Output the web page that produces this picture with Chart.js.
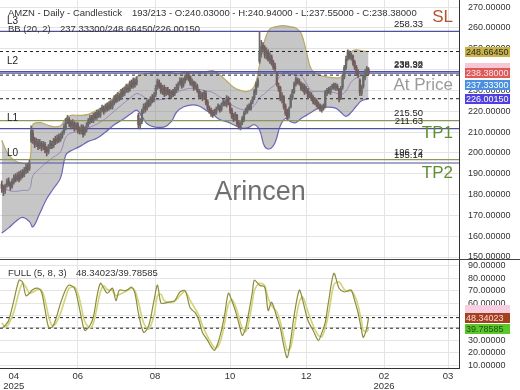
<!DOCTYPE html>
<html>
<head>
<meta charset="utf-8">
<script src="https://cdn.jsdelivr.net/npm/chart.js@4.4.1/dist/chart.umd.min.js"></script>
<style>
  html, body { margin: 0; padding: 0; background: #fff; }
  #wrap { width: 520px; height: 390px; position: relative; }
</style>
</head>
<body>
<div id="wrap"><canvas id="chart" width="520" height="390"></canvas></div>
<script>
// daily candles, bar index 0..212
const opens = [185,183.5,182,184.5,186.5,185,184,186,188.5,187.5,
  189.5,188,190.5,189.5,191,193.5,192.5,206,209.5,206.5,
  204,205,203.5,204.5,203,204,202,200.5,203.5,204,
  203.5,206.5,205.5,207.5,206.5,208,210,212,215.5,216,
  214.5,213,214,212.5,213.5,211,210,212.5,209.5,211,
  213.5,215,217,215.5,218.5,217,219,218,220.5,221,
  220.5,222.5,221.5,223.5,222,224,226.5,225.5,227,226.5,
  229.5,228.5,230,231,230.5,233.5,232,234,233.5,218,
  213,215,220.5,222.5,221.5,224,223.5,226.5,225.5,228,
  231.5,234,232.5,229,231.5,228.5,230,229.5,227,229.5,
  228.5,230,231,233.5,235,232.5,234.5,236,237.5,236.5,
  233,234,231.5,232,229.5,227.5,228,226.5,228.5,224.5,
  221,220.5,218,220,219.5,221.5,222,221,223.5,224,
  223,226,223.5,220.5,218,216.5,218,214.5,212,214.5,
  216,219.5,220,222.5,221,224.5,226.5,229,232.5,244,
  247.5,251.5,250.5,246.5,248.5,244.5,246,243.5,241.5,238.5,
  232,231.5,225.5,227,222.5,220,217.5,222,226.5,229,
  233,235,234.5,233,230.5,232,229.5,230,227.5,228,
  226.5,224,225,223.5,222.5,220.5,222.5,222,228.5,230.5,
  229,231.5,232.5,231,232,230.5,226,231.5,236.5,241,
  245.5,248,245.5,246.5,243.5,241,239,235,228.5,232,
  236,238.5,240.03];
const highs = [186.5,184.5,185,187.5,188,186,187.5,189.5,190,190.5,
  191,191.5,192,193,194.5,195,196.5,213,211,207.5,
  207,206.5,206.5,205.5,205.5,205,203,204,206,205.5,
  207,208,208.5,209,209.5,210.5,214,216.5,218,217,
  215.5,216,215,214.5,214.5,212.5,213.5,213.5,212.5,214.5,
  216.5,218,218,219,219.5,220.5,220.5,221.5,223,222.5,
  223.5,224,224.5,225,225.5,227.5,228,229,228.5,230.5,
  231,231.5,233,232.5,234.5,235,236,235.5,236.5,219,
  216.5,221,223.5,224,225.5,225.5,227,228,229,232.5,
  235.5,235,233.5,232.5,232.5,231.5,231.5,230.5,230,230.5,
  231.5,233,234,236,236,236,237.5,239,238.5,237,
  235.5,234.5,234,233,230.5,229.5,229,230,229.5,225.5,
  222.5,221.5,220.5,221,222,223.5,223,224,225.5,225,
  227.5,227,224,221.5,219,219.5,218.5,215.5,215,217.5,
  220,221.5,223,223.5,225,227,230.5,234,236,258.3,
  254,253,251.5,250.5,249.5,248,247,244.5,243,239,
  233.5,232,229,227.5,223.5,221,222,228,230.5,234,
  236.5,236,235.5,234,233.5,233,232,231,229.5,229,
  227.5,226.5,226,224.5,223.5,223,223.5,230,231,231.5,
  232,233,233.5,233.5,233,231,232,237,242,246.5,
  249.5,249,248,247,244.5,242,240,235.5,232.5,237.5,
  240,241.5,240.94];
const lows = [181,179.5,180.5,183.5,184,182,183,185,186,186.5,
  186,187,188,188.5,190,190.5,191.5,205,204.5,202.5,
  203,201.5,202,201,201.5,200,198.5,199.5,202,202,
  202.5,204,204.5,205,205.5,207,209,211,214,212.5,
  211.5,212,210.5,211,209.5,209,209,207.5,208.5,210,
  212.5,214,214.5,214.5,216,216,217,217,219.5,218.5,
  219.5,220,220.5,221,221,223,224,224.5,225,225.5,
  227,227.5,229,229,229.5,231,231,231.5,232.5,212,
  211.5,214,219,219.5,220.5,222,222.5,224,224.5,227,
  230.5,231,228.5,228,227,227.5,228,226.5,226,227,
  227.5,229,230,232.5,231,231.5,233.5,235,234.5,232.5,
  232,230,230.5,229,226,226.5,225,225.5,223,220.5,
  219,217.5,217,218,218.5,220.5,219.5,220,222.5,222.5,
  222,223,219,216.5,215,215.5,213,211.5,211,213.5,
  215,218.5,219,220.5,220.5,223.5,225.5,228,231.5,243,
  246,248.5,245.5,245,244,243,242,240,239,232,
  229.5,225,224,221,218,216,216.5,221.5,225.5,228.5,
  232,233,232.5,230,229.5,228,228.5,226,226.5,225,
  223.5,223,222,221,220,219.5,220.5,221.5,227.5,228.5,
  228,230.5,230.5,230,230,224.5,225.5,230.5,235.5,240,
  244.5,245,244.5,242,240,237.5,236,227.5,227.5,231,
  235,237.5,237.55];
const closes = [183,181.5,184,186,185,183.5,186.5,188,187,189,
  187.5,190,189,191.5,193,192,195,210.5,206,204,
  205.5,203,205,202.5,204,201.5,200.5,203,204.5,203.5,
  206,205,207,206,208,209,212.5,215,216.5,214,
  213,214.5,212,213,211,210.5,212,209,211.5,213,
  215,216.5,215.5,218,217,219.5,218.5,220,221.5,220,
  222,221,223,222.5,224.5,226,225,227.5,226.5,229,
  228,230,231.5,230.5,233,232,234.5,233,235,213.5,
  214.5,220,222,221,224.5,223,226,225,227.5,231,
  234.5,232,229.5,231,228,230.5,229,227.5,229,228,
  230.5,231.5,233,234.5,232,235,236.5,238,236,233.5,
  234.5,231,232.5,230,227,228.5,226,229,224,221.5,
  220,218.5,219.5,219,221,222.5,220.5,223,224.5,223.5,
  226.5,224,220,217.5,216,218.5,214,212.5,214,216.5,
  219,220.5,222,221.5,224,226,229.5,233,235,248,
  251,250,247,249,245,246.5,243,241,240.5,233,
  231,226,227.5,222,219,217,221,227,229.5,233,
  235.5,234,233.5,231,232.5,229,230.5,227,228.5,226,
  224.5,225.5,223,222,221,222,221.5,229,230,229.5,
  231,232,231.5,232.5,231,225.5,231,236,241,245,
  248.5,246,247,243,241,238.5,237,229,231.5,236.5,
  239,240.5,238.38];

// Bollinger (20, 2)
const bbIdx = [0,4,8,12,16,18,22,26,30,34,37,40,45,50,55,60,65,70,75,78,
  81,84,88,94,98,101,105,110,114,118,122,126,130,134,138,142,146,149,152,155,
  158,161,164,167,170,173,176,179,183,188,193,196,199,202,205,208,212];
const bbUpper = [206,199,196,195,195.5,213.5,214.5,213.5,212.5,213,216.5,218,218,218.5,220.5,223,227,231,234.5,236.5,
  237.5,238,238.5,239,238.5,238,238.5,239,238.5,239,239.5,237.5,234.5,231.5,230,229.5,232,242,254,259.5,
  260.5,261,261,260.5,260,257.5,249,240,237.5,236.5,236,236.5,242,248.5,249.5,249,248.6645];
const bbMid = [184,182,181.5,182,182.5,189,192.5,195.5,198,200.5,207.5,209.5,210.5,212,213.8,216.5,220,223.5,226.8,228.5,
  227.5,226,225.5,225.8,226.8,228.8,230.3,231,230.5,229.8,229,226.8,224.8,222.5,221,220.8,222.8,226.5,228.5,230.8,
  232.8,237,238.8,237.8,237.3,237,233.5,229.8,229.5,229.3,228.8,228,229.8,234,236,237,237.333];
const bbLower = [161.5,164,167,169,167,164.5,171,178,183,188,199,201,203,205.5,207,210,213.5,216,219,220.5,
  217.5,214,212.5,212.5,215,219.5,222,223,222.5,220.5,218.5,216,215,213.5,212,212,213.5,211,203,202,
  205,213,216.5,215,214.5,216.5,218,219.5,221.5,222,221.5,219.5,217.5,219.5,222.5,225,226.0015];

// Full stochastic (5, 8, 3)
const stochIdx = [0,2,4,7,10,12,14,16,18,21,23,25,27,29,31,34,37,39,42,44,
  46,48,51,53,55,57,59,61,64,66,68,71,73,75,77,79,82,85,88,90,
  92,94,97,100,103,106,109,112,114,116,119,121,123,125,127,129,131,133,135,137,
  139,141,143,145,146,149,152,154,156,159,161,163,165,167,169,172,174,177,180,183,
  185,187,189,192,195,198,200,202,204,206,208,209,211,212];
const stochK = [39.7,42,46,62,78.5,77,66,68,71,72,69,55,41,40.5,46,60,71,74.5,72,62,
  48.6,38,42,49,65,76,72,68,72,62,70.5,70,71,73,68,52,36.4,42,62,74.5,
  60,60,61,62,69,70,56,52,46,36.4,30,25,22,28,38,52,68,62,54,44,
  34,40,54,70,78.5,74.5,73,54,60.7,48.6,40,26,16,30,50,70.5,62,46,38,30,
  36,44.5,62,84,72,69,70,70.5,62,52,38,32.4,40,48.34023];
const stochD = [44,41,43,53,69,76,73,68,69,71,70.5,63,50,42,43,52,65,72,73,68,
  57,45,40,44,56,69,74,71,70,66,67,69,70.5,72,70,61,44,39,50,66,
  67,62,60.5,61.5,66,69.5,62,55,50,42,33,28,24,25,32,45,59,63,58,49,
  40,37,46,62,70,76,74,64,58,53,45,33,22,24,39,61,65,53,42,34,
  33,40,52,75,77,71,69.5,70,66,58,45,38,37,39.78585];

// horizontal levels
const levelNames = ['L3', 'L2', 'L1', 'L0'];
const purpleLevels = [258.33, 238.98, 238.32, 211.63, 195.14];
const greenLevels = [215.50, 196.72];
const namedLevels = [258.33, 238.98, 211.63, 195.14];

// x axis months
const monthTicks = [7, 44, 88.6, 132, 176, 221, 258];
const monthLabels = [['04', '2025'], ['06'], ['08'], ['10'], ['12'], ['02', '2026'], ['03']];

const FAM = '"Liberation Sans", Arial, sans-serif';
const xMin = -1, xMax = 264.3;
const last = closes.length - 1;
const bbNow = [bbUpper[bbUpper.length - 1], bbMid[bbMid.length - 1], bbLower[bbLower.length - 1]];
const stochNow = [stochK[stochK.length - 1], stochD[stochD.length - 1]];

const candleColor = closes.map((c, i) => c >= opens[i] ? '#6a6a6a' : '#735d5d');

function pts(xs, ys) { return xs.map((x, k) => ({ x: x, y: ys[k] })); }
function hline(v, axis, color, dash, width) {
    return {
        type: 'line', data: [{ x: xMin, y: v }, { x: xMax, y: v }], yAxisID: axis,
        borderColor: color, borderWidth: width, borderDash: dash, pointRadius: 0,
        fill: false, order: 10
    };
}
// no extra padding around the axes, the panels run edge to edge
function noPad(s) { s.paddingTop = 0; s.paddingBottom = 0; s.paddingLeft = 0; s.paddingRight = 0; }

const datasets = [
    { type: 'line', data: pts(bbIdx, bbUpper), borderColor: '#b9a964', borderWidth: 1.2, pointRadius: 0,
      fill: '+1', backgroundColor: 'rgba(120,120,120,0.42)', tension: 0.4, order: 21 },
    { type: 'line', data: pts(bbIdx, bbLower), borderColor: '#6a62c8', borderWidth: 1.2, pointRadius: 0,
      fill: false, tension: 0.4, order: 22 },
    { type: 'line', data: pts(bbIdx, bbMid), borderColor: '#8f7ab8', borderWidth: 0.8, pointRadius: 0,
      fill: false, tension: 0.4, order: 20 },
    { type: 'bar', data: highs.map((h, i) => ({ x: i, y: [lows[i], h] })), backgroundColor: candleColor,
      barThickness: 1, grouped: false, yAxisID: 'y', order: 2 },
    { type: 'bar', data: closes.map((c, i) => ({ x: i, y: [opens[i], c] })), backgroundColor: candleColor,
      barThickness: 1.6, grouped: false, yAxisID: 'y', order: 1 },
    { type: 'line', data: pts(stochIdx, stochD), yAxisID: 'y2', borderColor: '#d2d27a', borderWidth: 1.6,
      pointRadius: 0, fill: false, tension: 0.3, order: 3 },
    { type: 'line', data: pts(stochIdx, stochK), yAxisID: 'y2', borderColor: '#8c8c3c', borderWidth: 1.2,
      pointRadius: 0, fill: false, tension: 0.3, order: 2 }
];
purpleLevels.forEach(v => datasets.push(hline(v, 'y', '#50509e', [], 1.2)));
greenLevels.forEach(v => datasets.push(hline(v, 'y', '#87985a', [], 1.2)));
bbNow.forEach(v => datasets.push(hline(v, 'y', '#222', [3, 3], 1)));
stochNow.forEach(v => datasets.push(hline(v, 'y2', '#222', [3, 3], 1)));

function text(ctx, s, x, y, size, color, align, weight) {
    ctx.font = (weight || 'normal') + ' ' + size + 'px ' + FAM;
    ctx.fillStyle = color;
    ctx.textAlign = align || 'left';
    ctx.textBaseline = 'middle';
    ctx.fillText(s, x, y);
}
function tag(ctx, s, y, bg, fg) {
    ctx.fillStyle = bg;
    ctx.fillRect(465, Math.round(y - 5), 45, 10);
    text(ctx, s, 466, y + 0.5, 9, fg, 'left');
}

const overlay = {
    id: 'overlay',
    beforeDatasetsDraw(chart) {
        const ctx = chart.ctx;
        ctx.save();
        text(ctx, 'Arincen', 260, 193, 27, '#707070', 'center');
        ctx.restore();
    },
    afterDraw(chart) {
        const ctx = chart.ctx;
        const y = chart.scales.y, y2 = chart.scales.y2;
        ctx.save();
        // panel separator
        ctx.strokeStyle = '#444';
        ctx.lineWidth = 1;
        ctx.beginPath();
        ctx.moveTo(0, Math.round(y.bottom) + 0.5);
        ctx.lineTo(520, Math.round(y.bottom) + 0.5);
        ctx.stroke();

        // header
        text(ctx, 'AMZN - Daily - Candlestick', 8, 13, 9.5, '#333');
        text(ctx, (last - 19) + '/' + (last + 1) + ' - O:' + opens[last].toFixed(5) + ' - H:' + highs[last].toFixed(5) +
            ' - L:' + lows[last].toFixed(5) + ' - C:' + closes[last].toFixed(5), 132, 13, 9.5, '#333');
        text(ctx, 'BB (20, 2)', 8, 29.5, 9.5, '#333');
        text(ctx, bbNow[1].toFixed(5) + '/' + bbNow[0].toFixed(5) + '/' + bbNow[2].toFixed(5), 60, 29.5, 9.5, '#333');
        text(ctx, 'FULL (5, 8, 3)', 8, 273, 9.5, '#333');
        text(ctx, stochNow[0].toFixed(5) + '/' + stochNow[1].toFixed(5), 76, 273, 9.5, '#333');

        // level labels
        namedLevels.forEach((v, k) => text(ctx, levelNames[k], 7, y.getPixelForValue(v) - 10, 10, '#222'));
        purpleLevels.concat(greenLevels).forEach(v => {
            text(ctx, v.toFixed(2), 423, y.getPixelForValue(v) - 7.5, 9.5, '#222', 'right');
        });
        text(ctx, 'SL', 453, y.getPixelForValue(purpleLevels[0]) - 14.5, 17, '#b5532e', 'right');
        text(ctx, 'At Price', 453, y.getPixelForValue(bbNow[1]) + 10, 17, '#9a9a9a', 'right');
        text(ctx, 'TP1', 453, y.getPixelForValue(purpleLevels[3]) + 4.5, 17, '#5f8f2f', 'right');
        text(ctx, 'TP2', 453, y.getPixelForValue(purpleLevels[4]) + 10, 17, '#5f8f2f', 'right');

        // right axis value tags
        ctx.fillStyle = '#f6c8d6';
        ctx.fillRect(465, Math.round(y.getPixelForValue(purpleLevels[1])) - 9, 45, 9);
        tag(ctx, bbNow[0].toFixed(5), y.getPixelForValue(bbNow[0]), '#c8b24a', '#2a2a2a');
        tag(ctx, closes[last].toFixed(5), y.getPixelForValue(closes[last]), '#dd5a5a', '#ffe6e6');
        tag(ctx, bbNow[1].toFixed(5), y.getPixelForValue(bbNow[1]) + 9.5, '#4a8fe0', '#ffffff');
        tag(ctx, bbNow[2].toFixed(5), y.getPixelForValue(bbNow[2]), '#4f3fe0', '#ffffff');
        ctx.fillStyle = '#f8cfe0';
        ctx.fillRect(465, Math.round(y2.getPixelForValue(stochNow[0])) - 13, 45, 9);
        tag(ctx, stochNow[0].toFixed(5), y2.getPixelForValue(stochNow[0]), '#a3401e', '#ffd9d9');
        tag(ctx, stochNow[1].toFixed(5), y2.getPixelForValue(stochNow[1]) + 1, '#5cc72a', '#1d4d10');
        ctx.restore();
    }
};

const axisFont = { size: 9, family: FAM };

new Chart(document.getElementById('chart'), {
    type: 'bar',
    data: { datasets: datasets },
    options: {
        responsive: false,
        animation: false,
        layout: { padding: 0 },
        plugins: { legend: { display: false }, tooltip: { enabled: false } },
        scales: {
            x: {
                type: 'linear', min: xMin, max: xMax, offset: false,
                afterBuildTicks: s => { s.ticks = monthTicks.map(v => ({ value: v })); },
                ticks: { callback: (v, i) => monthLabels[i], autoSkip: false, maxRotation: 0,
                    font: { size: 9.5, family: FAM, lineHeight: 1.0 }, color: '#333', padding: 4 },
                grid: { color: c => c.index === 0 ? 'rgba(0,0,0,0)' : '#e4e4e4', drawTicks: false, offset: false },
                border: { display: true, color: '#333' },
                afterFit: s => { s.height = 22; noPad(s); }
            },
            y: {
                type: 'linear', position: 'right', stack: 'panels', stackWeight: 259,
                min: 149.04, max: 273.4,
                ticks: { stepSize: 10, includeBounds: false, autoSkip: false, callback: v => v.toFixed(5),
                    font: axisFont, color: '#333', padding: 9 },
                grid: { color: '#e4e4e4', drawTicks: false },
                border: { display: true, color: '#333' },
                afterFit: s => { s.width = 61; noPad(s); }
            },
            y2: {
                type: 'linear', position: 'right', stack: 'panels', stackWeight: 109,
                min: 7.7, max: 95.6,
                ticks: { stepSize: 10, includeBounds: false, autoSkip: false, callback: v => v.toFixed(5),
                    font: axisFont, color: '#333', padding: 9 },
                grid: { color: '#e4e4e4', drawTicks: false },
                border: { display: true, color: '#333' },
                afterFit: s => { s.width = 61; noPad(s); }
            }
        }
    },
    plugins: [overlay]
});
</script>
</body>
</html>
